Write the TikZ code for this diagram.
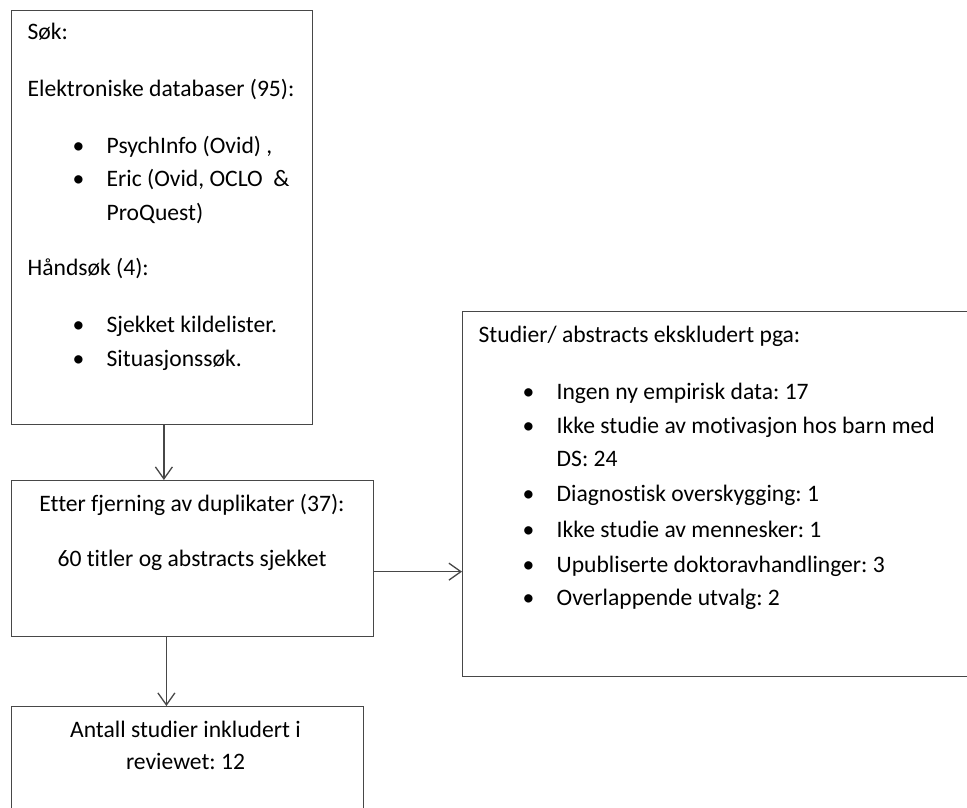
\documentclass[tikz,border=0pt]{standalone}
\usepackage{fontspec}
\setmainfont{Carlito}[Ligatures=NoCommon]
\usetikzlibrary{arrows.meta}
\frenchspacing

\newcommand{\punkt}[1]{\makebox[34pt][l]{\textbullet}#1}

\begin{document}
\begin{tikzpicture}[x=1pt,y=-1pt,line width=1.3pt,>={Straight Barb[length=12pt,width=17pt]},
  boks/.style={draw=black!72,line width=1.3pt,anchor=north west,inner sep=0pt},
  tekst/.style={font=\fontsize{23.6}{34}\selectfont,inner sep=0pt,anchor=base west},
  midt/.style={font=\fontsize{23.6}{34}\selectfont,inner sep=0pt,anchor=base},
  pil/.style={->,draw=black!72,line width=1.3pt}]
  \clip (0,0) rectangle (967,807);
  % --- bokser ---
  \node[boks,minimum width=301.5pt,minimum height=413.5pt] (sok) at (10.5,10){};
  \node[boks,minimum width=362.5pt,minimum height=156pt] (dup) at (10.5,480){};
  \node[boks,minimum width=530pt,minimum height=365pt] (eks) at (462,311){};
  \node[boks,minimum width=352.5pt,minimum height=130pt] (inkl) at (10.5,706){};
  % --- tekst i boksene ---
  \node[tekst] (sok1) at (27,39){Søk:};
  \node[tekst] (sok2) at (27,96){Elektroniske databaser (95):};
  \node[tekst] (sok3) at (72,153){\punkt{PsychInfo (Ovid) ,}};
  \node[tekst] (sok4) at (72,186){\punkt{Eric (Ovid, OCLO \ \&}};
  \node[tekst] (sok5) at (106,220){ProQuest)};
  \node[tekst] (sok6) at (27,275){Håndsøk (4):};
  \node[tekst] (sok7) at (72,332){\punkt{Sjekket kildelister.}};
  \node[tekst] (sok8) at (72,366){\punkt{Situasjonssøk.}};
  \node[midt] (dup1) at (192,511){Etter fjerning av duplikater (37):};
  \node[midt] (dup2) at (192,566){60 titler og abstracts sjekket};
  \node[tekst] (eks1) at (478,342){Studier/ abstracts ekskludert pga:};
  \node[tekst] (eks2) at (522,399){\punkt{Ingen ny empirisk data: 17}};
  \node[tekst] (eks3) at (522,433){\punkt{Ikke studie av motivasjon hos barn med}};
  \node[tekst] (eks4) at (556,466){DS: 24};
  \node[tekst] (eks5) at (522,501){\punkt{Diagnostisk overskygging: 1}};
  \node[tekst] (eks6) at (522,537){\punkt{Ikke studie av mennesker: 1}};
  \node[tekst] (eks7) at (522,572){\punkt{Upubliserte doktoravhandlinger: 3}};
  \node[tekst] (eks8) at (522,605){\punkt{Overlappende utvalg: 2}};
  \node[midt] (inkl1) at (185.5,737){Antall studier inkludert i};
  \node[midt] (inkl2) at (185.5,769){reviewet: 12};
  % --- piler ---
  \draw[pil] ([xshift=2pt]sok.south) -- ([xshift=2pt]sok.south |- dup.north);
  \draw[pil] ([xshift=-26pt]dup.south) -- ([xshift=-26pt]dup.south |- inkl.north);
  \draw[pil] ([yshift=-13pt]dup.east) -- ([yshift=-13pt]dup.east -| eks.west);
\end{tikzpicture}
\end{document}
